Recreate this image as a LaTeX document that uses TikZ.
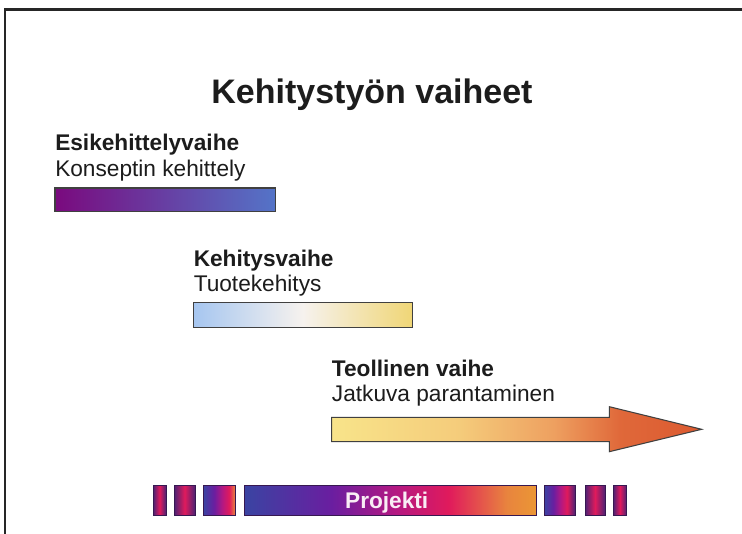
\documentclass[tikz,border=0pt]{standalone}
\usepackage{fontspec}
\setmainfont{Liberation Sans}
\definecolor{txt}{HTML}{1C1C1C}
\definecolor{rim}{HTML}{404040}
\definecolor{esileft}{HTML}{7A0A7E}
\definecolor{esiright}{HTML}{5474C8}
\definecolor{kehleft}{HTML}{A6C6F0}
\definecolor{kehmid}{HTML}{F6F2EE}
\definecolor{kehright}{HTML}{F0D676}
\definecolor{pblue}{HTML}{3A44A2}
\definecolor{ppurple}{HTML}{6A1EA0}
\definecolor{pmagenta}{HTML}{B41882}
\definecolor{pred}{HTML}{E01A5C}
\definecolor{porange}{HTML}{E8843E}
\definecolor{pdark}{HTML}{4E2274}
\definecolor{ayellow}{HTML}{F8E48A}
\definecolor{aorange}{HTML}{EEA060}
\definecolor{ahead}{HTML}{DC5A30}
\pgfdeclarehorizontalshading{projektishade}{100bp}{color(0bp)=(pblue); color(25bp)=(pblue); color(40bp)=(ppurple); color(51bp)=(pmagenta); color(60bp)=(pred); color(70bp)=(porange); color(75bp)=(porange!85!yellow); color(100bp)=(porange!85!yellow)}
\pgfdeclarehorizontalshading{stripeshade}{100bp}{color(0bp)=(pdark); color(25bp)=(pdark); color(50bp)=(pred); color(75bp)=(pdark); color(100bp)=(pdark)}
\pgfdeclarehorizontalshading{stripeleft}{100bp}{color(0bp)=(pblue); color(25bp)=(pblue); color(42bp)=(ppurple); color(55bp)=(pmagenta); color(66bp)=(pred); color(75bp)=(porange); color(100bp)=(porange)}
\pgfdeclarehorizontalshading{striperight}{100bp}{color(0bp)=(pblue); color(25bp)=(pblue); color(40bp)=(ppurple); color(52bp)=(pmagenta); color(62bp)=(pred); color(75bp)=(pdark); color(100bp)=(pdark)}
\pgfdeclarehorizontalshading{arrowshade}{100bp}{color(0bp)=(ayellow); color(25bp)=(ayellow); color(42bp)=(ayellow!65!aorange); color(55bp)=(aorange); color(64bp)=(ahead!80!aorange); color(75bp)=(ahead); color(100bp)=(ahead)}
\begin{document}
\begin{tikzpicture}[x=0.75pt,y=-0.75pt,
    head/.style={anchor=base west,inner sep=0pt,text=txt,font=\fontsize{17}{20}\selectfont\bfseries},
    sub/.style={anchor=base west,inner sep=0pt,text=txt,font=\fontsize{17}{20}\selectfont},
    bar/.style={draw=rim,line width=0.8pt},
    piece/.style={draw=pdark!70!black,line width=0.4pt}]
  \useasboundingbox[fill=white] (0,0) rectangle (742,534);
  \draw[line width=1.6pt,black!85] (742,9.5) -- (5,9.5) -- (5,534);
  \node[anchor=base,inner sep=0pt,text=txt,font=\fontsize{25.5}{30}\selectfont\bfseries]
    (title) at (372,103.3) {Kehitystyön vaiheet};
  \node[head] (esi) at (55,150.7) {Esikehittelyvaihe};
  \node[sub] (konsepti) at (55,176.5) {Konseptin kehittely};
  \draw[bar,left color=esileft,right color=esiright] (55,188) rectangle (275.5,211.7);
  \node[head] (kehitys) at (193.5,266.5) {Kehitysvaihe};
  \node[sub] (tuote) at (193.5,291.5) {Tuotekehitys};
  \draw[bar,left color=kehleft,right color=kehright,middle color=kehmid] (193.3,302.7) rectangle (412.3,327.3);
  \node[head] (teollinen) at (331.7,376) {Teollinen vaihe};
  \node[sub] (jatkuva) at (331.7,402) {Jatkuva parantaminen};
  \draw[bar,shading=arrowshade] (331.7,417.3) -- (609.3,417.3) -- (609.3,406.7) -- (701.7,429.3)
    -- (609.3,451.7) -- (609.3,441.7) -- (331.7,441.7) -- cycle;
  \begin{scope}[piece]
    \draw[shading=stripeshade] (153.3,485.5) rectangle (166,515.5);
    \draw[shading=stripeshade] (174.3,485.5) rectangle (195,515.5);
    \draw[shading=stripeleft] (203.3,485.5) rectangle (235,515.5);
    \draw[shading=projektishade] (244,485.5) rectangle (536,515.5);
    \draw[shading=striperight] (544.3,485.5) rectangle (575,515.5);
    \draw[shading=stripeshade] (585,485.5) rectangle (605,515.5);
    \draw[shading=stripeshade] (613.3,485.5) rectangle (626.7,515.5);
  \end{scope}
  \node[anchor=base,inner sep=0pt,text=white!92!pmagenta,font=\fontsize{17}{20}\selectfont\bfseries]
    (projekti) at (386.7,508) {Projekti};
\end{tikzpicture}
\end{document}
